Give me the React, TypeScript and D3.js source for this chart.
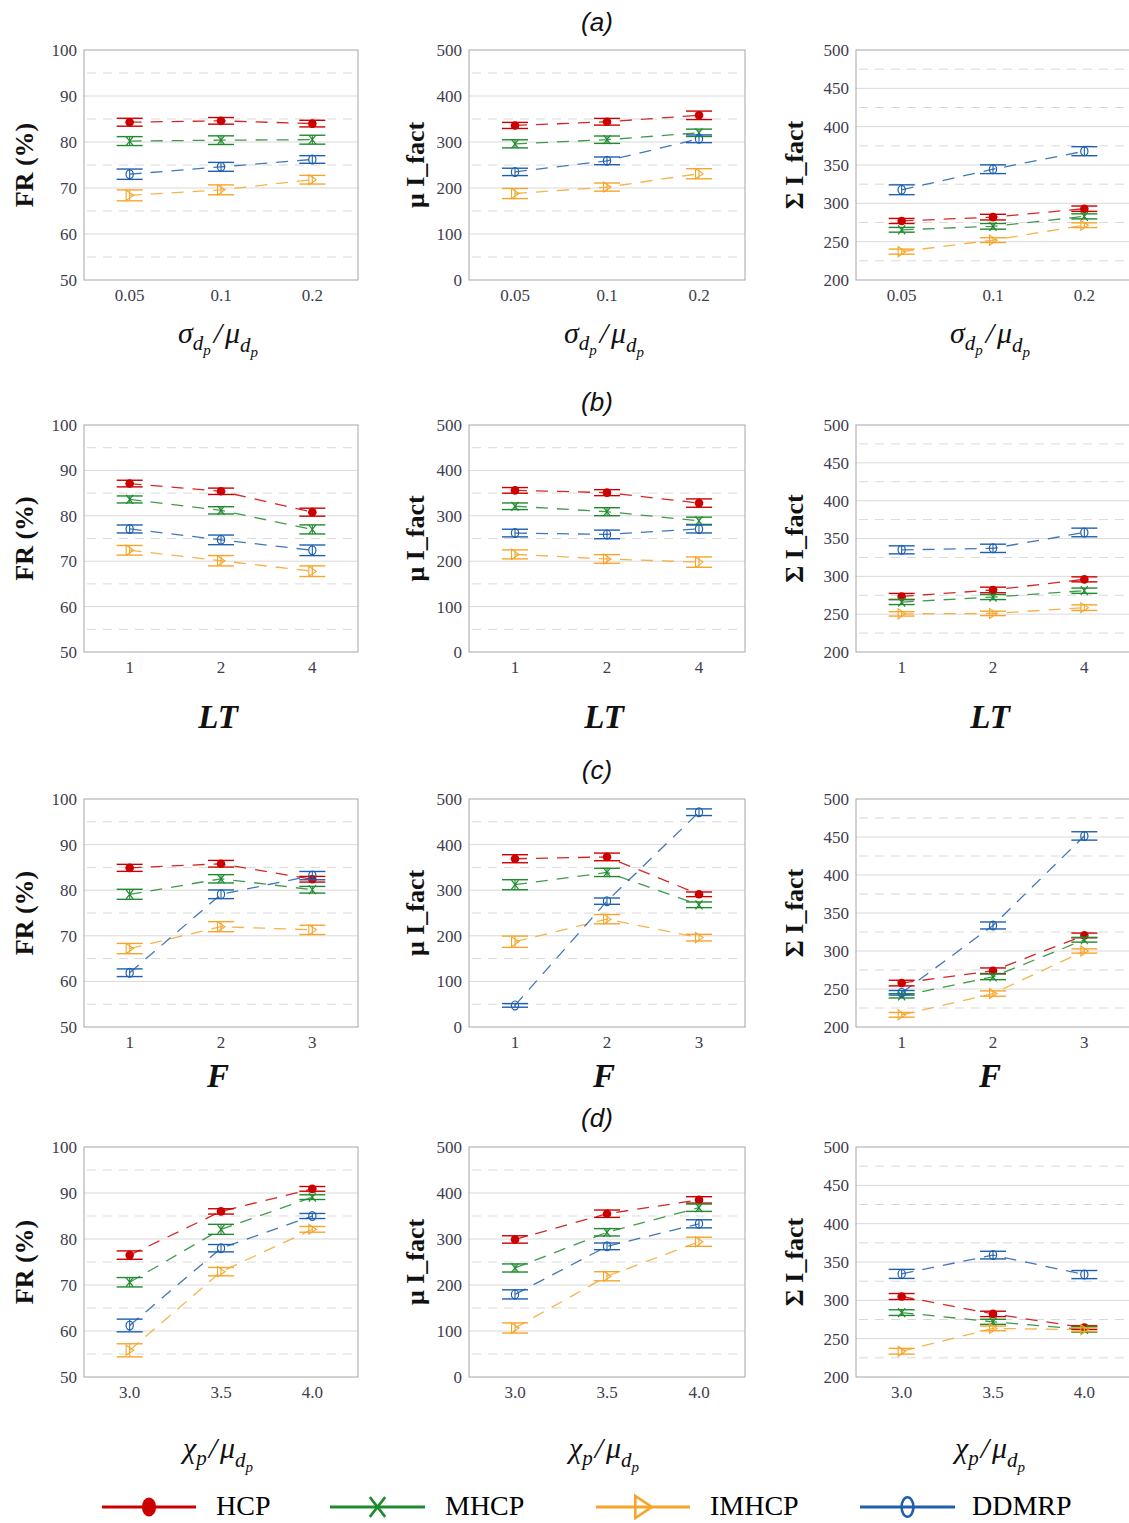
import React from "react";
import * as d3 from "d3";

const seriesNames = ["HCP", "MHCP", "IMHCP", "DDMRP"];
const seriesColors = ["#cc0000", "#1f8a2e", "#f7a52a", "#1f5fae"];

const catsA = ["0.05", "0.1", "0.2"];
const catsB = ["1", "2", "4"];
const catsC = ["1", "2", "3"];
const catsD = ["3.0", "3.5", "4.0"];

// values: [HCP, MHCP, IMHCP, DDMRP] x categories
const frA = [[84.3, 84.6, 84.0], [80.2, 80.4, 80.5], [68.4, 69.6, 71.8], [73.0, 74.6, 76.2]];
const frAErr = [[0.86, 0.72, 0.72], [0.97, 0.94, 0.97], [1.19, 1.08, 0.94], [1.12, 0.97, 0.83]];
const muA = [[336, 344, 358], [296, 305, 320], [188, 202, 231], [235, 259, 307]];
const muAErr = [[6.6, 7.3, 9.2], [8.8, 8, 8], [11, 8.8, 11], [8, 8.4, 8.4]];
const sigA = [[277, 282, 293], [265.5, 270, 283], [237, 252, 271.5], [317.7, 344.5, 368]];
const sigAErr = [[3.3, 3.7, 3.5], [3.1, 3.7, 3.3], [3.3, 3.1, 3.1], [6.4, 5.7, 5.9]];

const frB = [[87.1, 85.4, 80.8], [83.6, 81.2, 77.0], [72.4, 70.1, 67.8], [77.1, 74.7, 72.4]];
const frBErr = [[0.73, 0.7, 0.88], [0.77, 0.8, 1.0], [1.06, 1.14, 1.17], [0.88, 1.06, 1.17]];
const muB = [[356, 351, 328], [321, 309, 289], [215, 205, 198], [262, 259, 271]];
const muBErr = [[6.2, 6.6, 9.2], [7.3, 8.8, 8], [9.9, 9.5, 11.4], [8.4, 9.5, 8.8]];
const sigB = [[273.4, 282, 296], [266, 272.6, 281], [250.4, 251, 258.6], [335, 337, 358]];
const sigBErr = [[4, 3.7, 3.3], [3.3, 3.3, 3.5], [2.9, 2.9, 3.7], [5.3, 5.5, 5.7]];

const frC = [[84.9, 85.8, 82.4], [79.1, 82.5, 80.1], [67.2, 72.0, 71.3], [61.9, 79.1, 83.2]];
const frCErr = [[0.77, 0.73, 0.62], [1.1, 0.91, 0.73], [1.13, 1.1, 1.02], [0.84, 0.95, 0.91]];
const muC = [[369, 373, 291], [312, 339, 268], [187, 236.5, 196], [47.4, 276, 471]];
const muCErr = [[8.8, 8.4, 5.1], [11, 9.1, 6.2], [12.4, 10.2, 7.3], [4, 6.9, 7.3]];
const sigC = [[257.8, 274, 320.5], [241, 266, 314.8], [216, 244, 300], [245, 333.6, 451.4]];
const sigCErr = [[3.7, 3.7, 3.1], [2.8, 3.7, 3.1], [3.1, 3.5, 2.8], [3, 4.6, 5.5]];

const frD = [[76.5, 86.0, 90.9], [70.6, 82.1, 89.1], [55.8, 72.9, 82.1], [61.2, 78.0, 85.0]];
const frDErr = [[0.91, 0.58, 0.51], [1.02, 1.09, 0.51], [1.42, 0.91, 0.62], [1.38, 0.8, 0.55]];
const muD = [[299, 355, 385], [237, 314.6, 368], [106.6, 219, 294], [179.6, 284, 333]];
const muDErr = [[8, 8, 6.9], [8.8, 8, 8], [11, 9.9, 9.9], [9.9, 7.3, 8.8]];
const sigD = [[305, 282.3, 264.4], [284, 272, 262], [233.6, 263.4, 261.7], [334.5, 359, 333.6]];
const sigDErr = [[3.9, 3.5, 2.4], [3.7, 3.3, 3.5], [3.7, 3.1, 2.4], [5.9, 5, 5.3]];

const rows = [
  { title: "(a)", titleY: 31, cats: catsA, top: 50, bottom: 280, xl: "sigma", xlY: 343, data: [[frA, frAErr], [muA, muAErr], [sigA, sigAErr]] },
  { title: "(b)", titleY: 411, cats: catsB, top: 425, bottom: 652, xl: "LT", xlY: 728, data: [[frB, frBErr], [muB, muBErr], [sigB, sigBErr]] },
  { title: "(c)", titleY: 779, cats: catsC, top: 799, bottom: 1027, xl: "F", xlY: 1087, data: [[frC, frCErr], [muC, muCErr], [sigC, sigCErr]] },
  { title: "(d)", titleY: 1127, cats: catsD, top: 1147, bottom: 1377, xl: "chi", xlY: 1458, data: [[frD, frDErr], [muD, muDErr], [sigD, sigDErr]] },
];

const cols = [
  { left: 84, right: 358, domain: [50, 100], step: 10, label: "FR (%)", labelX: 33 },
  { left: 469, right: 745, domain: [0, 500], step: 100, label: "μ I_fact", labelX: 424 },
  { left: 856, right: 1130, domain: [200, 500], step: 50, label: "Σ I_fact", labelX: 803 },
];

const SERIF = "'Liberation Serif', 'Times New Roman', serif";
const SANS = "'Liberation Sans', Arial, sans-serif";
const TICK = "#3d3d4d";
const GRID = "#d9d9d9";

function Marker({ kind, x, y, color, big }: any) {
  const s = big ? 2.2 : 1;
  if (kind === 0) return <ellipse cx={x} cy={y} rx={4.3 * s * (big ? 0.75 : 1)} ry={4.3 * s} fill={color} />;
  if (kind === 1)
    return (
      <path d={`M${x - 3.5 * s},${y - 4.5 * s}L${x + 3.5 * s},${y + 4.5 * s}M${x + 3.5 * s},${y - 4.5 * s}L${x - 3.5 * s},${y + 4.5 * s}`}
        stroke={color} strokeWidth={big ? 2.6 : 1.2} fill="none" />
    );
  if (kind === 2)
    return (
      <path d={`M${x - 3.5 * s},${y - 5 * s}L${x - 3.5 * s},${y + 5 * s}L${x + 4 * s},${y}Z`}
        stroke={color} strokeWidth={big ? 2.6 : 1.1} fill="none" />
    );
  return <ellipse cx={x} cy={y} rx={3.6 * s * (big ? 0.75 : 1)} ry={4.4 * s} stroke={color} strokeWidth={big ? 2.6 : 1.2} fill="none" />;
}

function Panel({ row, col, vals, errs }: any) {
  const x = d3.scalePoint().domain(row.cats).range([col.left, col.right]).padding(0.5);
  const y = d3.scaleLinear().domain(col.domain).range([row.bottom, row.top]);
  const [lo, hi] = col.domain;
  const majors = d3.range(lo + col.step, hi - 1e-6, col.step);
  const minors = d3.range(lo + col.step / 2, hi, col.step);
  const ticks = d3.range(lo, hi + 1e-6, col.step);
  const line = d3.line<number>().x((_, i) => x(row.cats[i]) as number).y((v) => y(v));
  const cy = (row.top + row.bottom) / 2;
  const cap = 13;
  return (
    <g>
      {minors.map((v: number) => (
        <line key={"mn" + v} x1={col.left + 3} x2={col.right - 3} y1={y(v)} y2={y(v)} stroke={GRID} strokeWidth={1} strokeDasharray="9,7" />
      ))}
      {majors.map((v: number) => (
        <line key={"mj" + v} x1={col.left} x2={col.right} y1={y(v)} y2={y(v)} stroke={GRID} strokeWidth={1} />
      ))}
      <rect x={col.left} y={row.top} width={col.right - col.left} height={row.bottom - row.top} fill="none" stroke="#a6a6a6" strokeWidth={1} />
      {ticks.map((v: number) => (
        <text key={"t" + v} x={col.left - 7} y={y(v)} dy="0.35em" textAnchor="end" fontFamily={SERIF} fontSize={17} fill={TICK}>
          {v}
        </text>
      ))}
      {row.cats.map((c: string) => (
        <text key={"c" + c} x={x(c)} y={row.bottom + 15} dy="0.35em" textAnchor="middle" fontFamily={SERIF} fontSize={17} fill={TICK}>
          {c}
        </text>
      ))}
      <text transform={`translate(${col.labelX},${cy}) rotate(-90)`} textAnchor="middle" fontFamily={SERIF} fontWeight="bold" fontSize={26} fill="#111">
        {col.label}
      </text>
      {vals.map((sv: number[], si: number) => (
        <path key={"l" + si} d={line(sv) as string} fill="none" stroke={seriesColors[si]} strokeWidth={1.3} strokeDasharray="12,9" strokeOpacity={0.85} />
      ))}
      {vals.map((sv: number[], si: number) =>
        sv.map((v: number, ci: number) => {
          const px = x(row.cats[ci]) as number;
          const e = errs[si][ci];
          const y1 = y(v + e), y2 = y(v - e);
          return (
            <g key={"e" + si + "_" + ci}>
              <line x1={px} x2={px} y1={y1} y2={y2} stroke={seriesColors[si]} strokeWidth={1.1} />
              <line x1={px - cap} x2={px + cap} y1={y1} y2={y1} stroke={seriesColors[si]} strokeWidth={1.4} />
              <line x1={px - cap} x2={px + cap} y1={y2} y2={y2} stroke={seriesColors[si]} strokeWidth={1.4} />
              <Marker kind={si} x={px} y={y(v)} color={seriesColors[si]} />
            </g>
          );
        })
      )}
    </g>
  );
}

function XLabel({ kind, x, y }: any) {
  const common = { x, y, textAnchor: "middle", fontFamily: SERIF, fill: "#111" } as any;
  if (kind === "LT" || kind === "F")
    return (
      <text {...common} fontSize={33} fontWeight="bold" fontStyle="italic">
        {kind}
      </text>
    );
  const first = kind === "sigma" ? "σ" : "χ";
  return (
    <text {...common} fontSize={30} fontStyle="italic">
      <tspan>{first}</tspan>
      {kind === "sigma" ? (
        <>
          <tspan fontSize={21} dy={7}>d</tspan>
          <tspan fontSize={15} dy={5}>p</tspan>
          <tspan fontSize={30} dy={-12} dx={3}>/</tspan>
        </>
      ) : (
        <>
          <tspan fontSize={21} dy={7}>p</tspan>
          <tspan fontSize={30} dy={-7} dx={2}>/</tspan>
        </>
      )}
      <tspan dx={3}>μ</tspan>
      <tspan fontSize={21} dy={9}>d</tspan>
      <tspan fontSize={15} dy={5}>p</tspan>
    </text>
  );
}

const legendX = [
  { x1: 102, x2: 196, tx: 216 },
  { x1: 330, x2: 425, tx: 445 },
  { x1: 596, x2: 690, tx: 710 },
  { x1: 860, x2: 955, tx: 972 },
];

export default function App() {
  return (
    <svg width={1129} height={1523} style={{ position: "absolute", left: 0, top: 0, background: "#fff" }}>
      <rect width={1129} height={1523} fill="#fff" />
      {rows.map((row, ri) => (
        <g key={"r" + ri}>
          <text x={597} y={row.titleY} textAnchor="middle" fontFamily={SANS} fontStyle="italic" fontSize={26} fill="#111">
            {row.title}
          </text>
          {cols.map((col, ci) => (
            <g key={"p" + ci}>
              <Panel row={row} col={col} vals={row.data[ci][0]} errs={row.data[ci][1]} />
              <XLabel kind={row.xl} x={(col.left + col.right) / 2 - 3} y={row.xlY} />
            </g>
          ))}
        </g>
      ))}
      {seriesNames.map((n, i) => {
        const L = legendX[i];
        const ly = 1507;
        return (
          <g key={"lg" + n}>
            <line x1={L.x1} x2={L.x2} y1={ly} y2={ly} stroke={seriesColors[i]} strokeWidth={3} />
            <Marker kind={i} x={(L.x1 + L.x2) / 2} y={ly} color={seriesColors[i]} big />
            <text x={L.tx} y={1515} fontFamily={SERIF} fontSize={28} fill="#000">
              {n}
            </text>
          </g>
        );
      })}
    </svg>
  );
}
